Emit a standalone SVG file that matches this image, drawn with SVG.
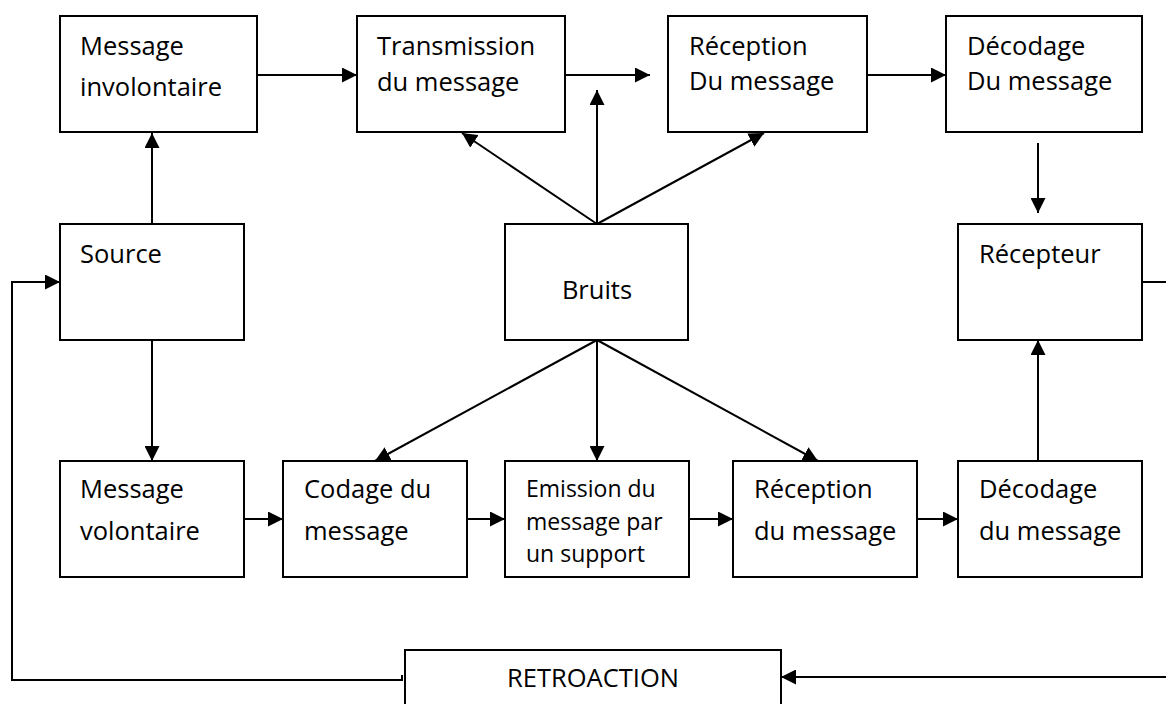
<svg xmlns="http://www.w3.org/2000/svg" width="1166" height="704" viewBox="0 0 1166 704">
  <defs>
    <marker id="arrow" markerUnits="userSpaceOnUse" markerWidth="15" markerHeight="15" refX="15" refY="7.5" orient="auto">
      <path d="M0,0 L15,7.5 L0,15 z" fill="#000"/>
    </marker>
  </defs>
  <style>
    .box { fill: #fff; stroke: #000; stroke-width: 2; }
    .lbl { font-family: "Open Sans", "Liberation Sans", Arial, sans-serif; font-size: 25.5px; fill: #000; }
    .sm { font-size: 23px; }
    .mid { text-anchor: middle; }
    .wire { fill: none; stroke: #000; stroke-width: 2; }
    .arr { marker-end: url(#arrow); }
  </style>
  <rect width="1166" height="704" fill="#fff"/>

  <!-- connectors -->
  <g id="connectors">
    <!-- top chain -->
    <line class="wire arr" x1="257" y1="75" x2="357" y2="75"/>
    <line class="wire arr" x1="565" y1="75" x2="650" y2="75"/>
    <line class="wire arr" x1="867" y1="75" x2="946" y2="75"/>
    <line class="wire arr" x1="1038" y1="143" x2="1038" y2="213"/>
    <!-- source branches -->
    <line class="wire arr" x1="152" y1="224" x2="152" y2="133"/>
    <line class="wire arr" x1="152" y1="340" x2="152" y2="461"/>
    <!-- noise, upward -->
    <line class="wire arr" x1="597" y1="224" x2="462" y2="133"/>
    <line class="wire arr" x1="597" y1="224" x2="597" y2="90"/>
    <line class="wire arr" x1="597" y1="224" x2="764" y2="133"/>
    <!-- noise, downward -->
    <line class="wire arr" x1="597" y1="340" x2="375" y2="461"/>
    <line class="wire arr" x1="597" y1="340" x2="597" y2="461"/>
    <line class="wire arr" x1="597" y1="340" x2="818" y2="461"/>
    <!-- bottom chain -->
    <line class="wire arr" x1="244" y1="519" x2="283" y2="519"/>
    <line class="wire arr" x1="467" y1="519" x2="505" y2="519"/>
    <line class="wire arr" x1="689" y1="519" x2="733" y2="519"/>
    <line class="wire arr" x1="917" y1="519" x2="958" y2="519"/>
    <line class="wire arr" x1="1038" y1="461" x2="1038" y2="340"/>
    <!-- feedback loop -->
    <path class="wire arr" d="M1142,282 H1180 V677 H781"/>
    <path class="wire arr" d="M402,675 V680 H12 V282 H60"/>
  </g>

  <!-- nodes -->
  <g id="msg-involontaire">
    <rect class="box" x="60" y="16" width="197" height="116"/>
    <text class="lbl" x="80" y="55">Message</text>
    <text class="lbl" x="80" y="96">involontaire</text>
  </g>
  <g id="transmission">
    <rect class="box" x="357" y="16" width="208" height="116"/>
    <text class="lbl" x="377" y="55">Transmission</text>
    <text class="lbl" x="377" y="91">du message</text>
  </g>
  <g id="reception-top">
    <rect class="box" x="668" y="16" width="199" height="116"/>
    <text class="lbl" x="689" y="55">Réception</text>
    <text class="lbl" x="689" y="90">Du message</text>
  </g>
  <g id="decodage-top">
    <rect class="box" x="946" y="16" width="196" height="116"/>
    <text class="lbl" x="967" y="55">Décodage</text>
    <text class="lbl" x="967" y="90">Du message</text>
  </g>
  <g id="source">
    <rect class="box" x="60" y="224" width="184" height="116"/>
    <text class="lbl" x="80" y="263">Source</text>
  </g>
  <g id="bruits">
    <rect class="box" x="505" y="224" width="183" height="116"/>
    <text class="lbl mid" x="597" y="299">Bruits</text>
  </g>
  <g id="recepteur">
    <rect class="box" x="958" y="224" width="184" height="116"/>
    <text class="lbl" x="979" y="263">Récepteur</text>
  </g>
  <g id="msg-volontaire">
    <rect class="box" x="60" y="461" width="184" height="116"/>
    <text class="lbl" x="80" y="498">Message</text>
    <text class="lbl" x="80" y="540">volontaire</text>
  </g>
  <g id="codage">
    <rect class="box" x="283" y="461" width="184" height="116"/>
    <text class="lbl" x="304" y="498">Codage du</text>
    <text class="lbl" x="304" y="540">message</text>
  </g>
  <g id="emission">
    <rect class="box" x="505" y="461" width="184" height="116"/>
    <text class="lbl sm" x="526" y="497">Emission du</text>
    <text class="lbl sm" x="526" y="530">message par</text>
    <text class="lbl sm" x="526" y="562">un support</text>
  </g>
  <g id="reception-bottom">
    <rect class="box" x="733" y="461" width="184" height="116"/>
    <text class="lbl" x="754" y="498">Réception</text>
    <text class="lbl" x="754" y="540">du message</text>
  </g>
  <g id="decodage-bottom">
    <rect class="box" x="958" y="461" width="184" height="116"/>
    <text class="lbl" x="979" y="498">Décodage</text>
    <text class="lbl" x="979" y="540">du message</text>
  </g>
  <g id="retroaction">
    <rect class="box" x="405" y="650" width="376" height="80"/>
    <text class="lbl mid" x="593" y="687">RETROACTION</text>
  </g>
</svg>
